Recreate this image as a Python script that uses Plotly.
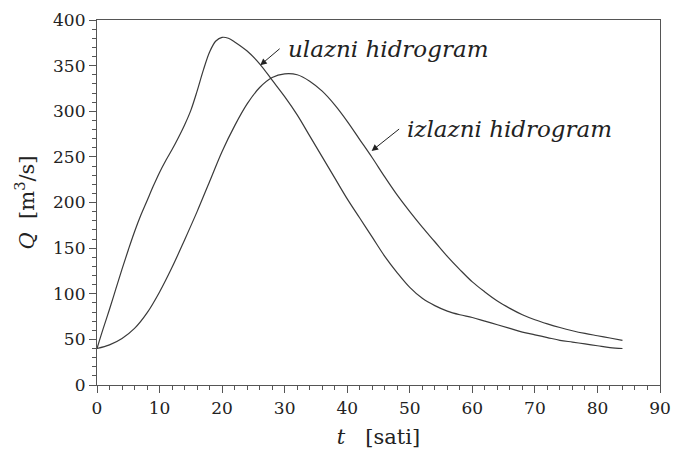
import plotly.graph_objects as go

# Inflow hydrograph (ulazni hidrogram), time in hours, discharge in m^3/s
t_in = [0, 1, 2, 3, 4, 5, 6, 7, 8, 9, 10, 11, 12, 13, 14, 15, 16, 17, 18, 19, 20,
        21, 22, 24, 26, 28, 30, 32, 34, 36, 38, 40, 42, 44, 46, 48, 50, 52, 54,
        56, 58, 60, 62, 64, 66, 68, 70, 72, 74, 76, 78, 80, 82, 84]
q_in = [40, 62, 83, 105, 127, 148, 168, 186, 202, 218, 233, 246, 258, 271, 285, 301,
        322, 345, 365, 377, 381, 380, 376, 366, 352, 334, 316, 296, 273, 250, 227,
        204, 183, 162, 141, 123, 107, 95, 87, 81, 77, 74, 70, 66, 62, 58, 55, 52,
        49, 47, 45, 43, 41, 40]

# Outflow hydrograph (izlazni hidrogram)
t_out = [0, 2, 4, 6, 8, 10, 12, 14, 16, 18, 20, 22, 24, 26, 28, 30, 32, 34, 36, 38,
         40, 42, 44, 46, 48, 50, 52, 54, 56, 58, 60, 62, 64, 66, 68, 70, 72, 74, 76,
         78, 80, 82, 84]
q_out = [40, 44, 51, 62, 79, 102, 129, 159, 190, 223, 256, 284, 308, 326, 337, 341,
         340, 333, 322, 307, 289, 269, 249, 228, 208, 190, 173, 157, 141, 126.5, 113,
         102, 92, 84, 77, 71.5, 67, 63, 59.5, 56.5, 54, 51.5, 49]

x_ticks = [0, 10, 20, 30, 40, 50, 60, 70, 80, 90]
y_ticks = [0, 50, 100, 150, 200, 250, 300, 350, 400]

LINE = "#3a3a3a"
AXIS = "#555555"
SERIF = "DejaVu Serif"
INK = "#222222"

fig = go.Figure()
fig.add_trace(go.Scatter(x=t_in, y=q_in, mode="lines", name="ulazni hidrogram",
                         line=dict(color=LINE, width=1.2, shape="spline", smoothing=1)))
fig.add_trace(go.Scatter(x=t_out, y=q_out, mode="lines", name="izlazni hidrogram",
                         line=dict(color=LINE, width=1.2, shape="spline", smoothing=1)))

axis_common = dict(
    showgrid=False, zeroline=False, showline=True, linecolor=AXIS, linewidth=1.2,
    mirror=True, ticks="outside", ticklen=7, tickwidth=1, tickcolor=AXIS,
    tickfont=dict(family=SERIF, size=17, color=INK), ticklabeloverflow="allow",
)

fig.update_layout(
    width=681, height=459,
    margin=dict(l=97, r=10, t=16, b=74),
    paper_bgcolor="white", plot_bgcolor="white",
    showlegend=False,
    font=dict(family=SERIF, color=INK),
    xaxis=dict(range=[0, 90], tickvals=x_ticks,
               minor=dict(dtick=2, ticks="outside", ticklen=4, tickcolor=AXIS),
               title=dict(text="<i>t</i>&nbsp;&nbsp;&nbsp;[sati]",
                          font=dict(family=SERIF, size=21, color=INK), standoff=12),
               **axis_common),
    yaxis=dict(range=[0, 400], tickvals=y_ticks,
               minor=dict(dtick=10, ticks="outside", ticklen=4, tickcolor=AXIS),
               title=dict(text="<i>Q</i>&nbsp;&nbsp;[m<sup>3</sup>/s]",
                          font=dict(family=SERIF, size=21, color=INK), standoff=12),
               **axis_common),
)

# Curve labels, each with an arrow pointing at its hydrograph
labels = [
    dict(text="<i>ulazni hidrogram</i>", tip=(26.1, 350.5), tail=(29.2, 368.5)),
    dict(text="<i>izlazni hidrogram</i>", tip=(43.9, 256.5), tail=(48.3, 280.5)),
]
for lab in labels:
    fig.add_annotation(
        x=lab["tip"][0], y=lab["tip"][1], ax=lab["tail"][0], ay=lab["tail"][1],
        xref="x", yref="y", axref="x", ayref="y",
        xanchor="left", yanchor="middle", text=lab["text"],
        showarrow=True, arrowhead=2, arrowsize=1.3, arrowwidth=1, arrowcolor=INK,
        borderpad=7, font=dict(family=SERIF, size=23, color=INK),
    )

fig.write_html("out.html")
